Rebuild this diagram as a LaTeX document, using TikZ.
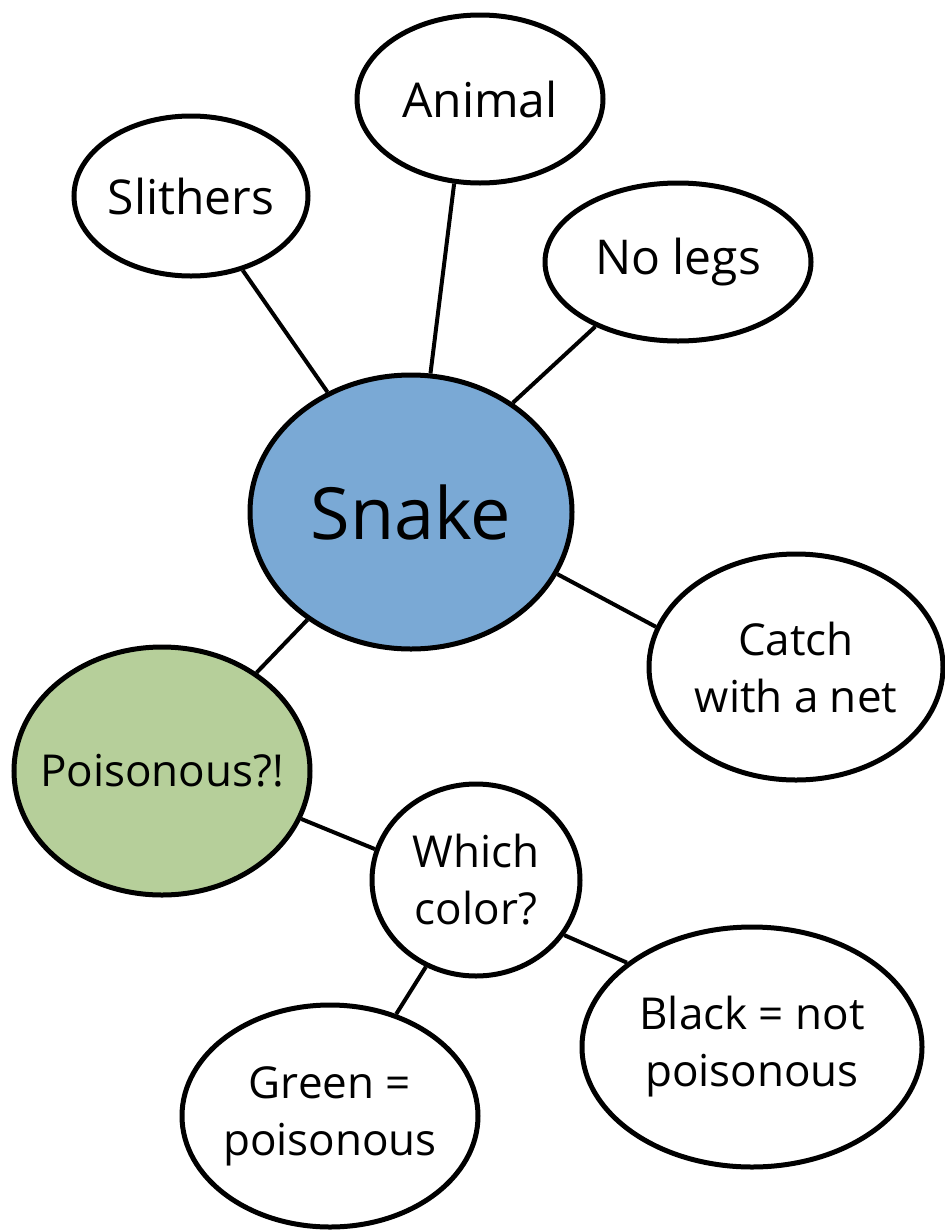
\documentclass[tikz,border=0pt]{standalone}
\usepackage{fontspec}
\setmainfont{Open Sans}
\usetikzlibrary{shapes.geometric}
\definecolor{snakeblue}{RGB}{122,169,213}
\definecolor{poisongreen}{RGB}{182,207,154}

\begin{document}
\begin{tikzpicture}[x=0.5pt, y=-0.5pt,
    bubble/.style={draw, ellipse, line width=2.5pt, fill=white, inner ysep=0pt, inner xsep=-20pt, align=center},
    link/.style={line width=2pt},
    bigtext/.style={font=\fontsize{24}{30}\selectfont},
    smalltext/.style={font=\fontsize{22}{28.5}\selectfont}]
    % Mindmap Snake
    \useasboundingbox (0,0) rectangle (945,1232);

    \node[bubble, fill=snakeblue, minimum width=161pt, minimum height=137pt, font=\fontsize{36}{40}\selectfont] (snake) at (411,512) {Snake};

    \node[bubble, bigtext, minimum width=117pt, minimum height=80pt] (slithers) at (191,196) {Slithers};
    \node[bubble, bigtext, minimum width=123pt, minimum height=84pt] (animal) at (480,99) {Animal};
    \node[bubble, bigtext, minimum width=133pt, minimum height=79pt] (nolegs) at (678,262) {No legs};
    \node[bubble, smalltext, minimum width=147pt, minimum height=113pt] (catch) at (796,667) {Catch\\with a net};

    \node[bubble, smalltext, fill=poisongreen, minimum width=148pt, minimum height=124pt] (poison) at (162,771) {Poisonous?!};
    \node[bubble, smalltext, minimum width=104pt, minimum height=96pt] (which) at (476,880) {Which\\color?};
    \node[bubble, smalltext, minimum width=170pt, minimum height=120pt] (black) at (752,1047) {Black = not\\poisonous};
    \node[bubble, smalltext, minimum width=148pt, minimum height=111pt] (green) at (330,1116) {Green =\\poisonous};

    \draw[link] (slithers) -- (snake);
    \draw[link] (animal.253) -- (snake.82);
    \draw[link] (nolegs.218) -- (snake.47);
    \draw[link] (catch.164) -- (snake.337);
    \draw[link] (snake) -- (poison);
    \draw[link] (poison.-19) -- (which.163);
    \draw[link] (which.328) -- (black.146);
    \draw[link] (which.240) -- (green.57);
\end{tikzpicture}
\end{document}
